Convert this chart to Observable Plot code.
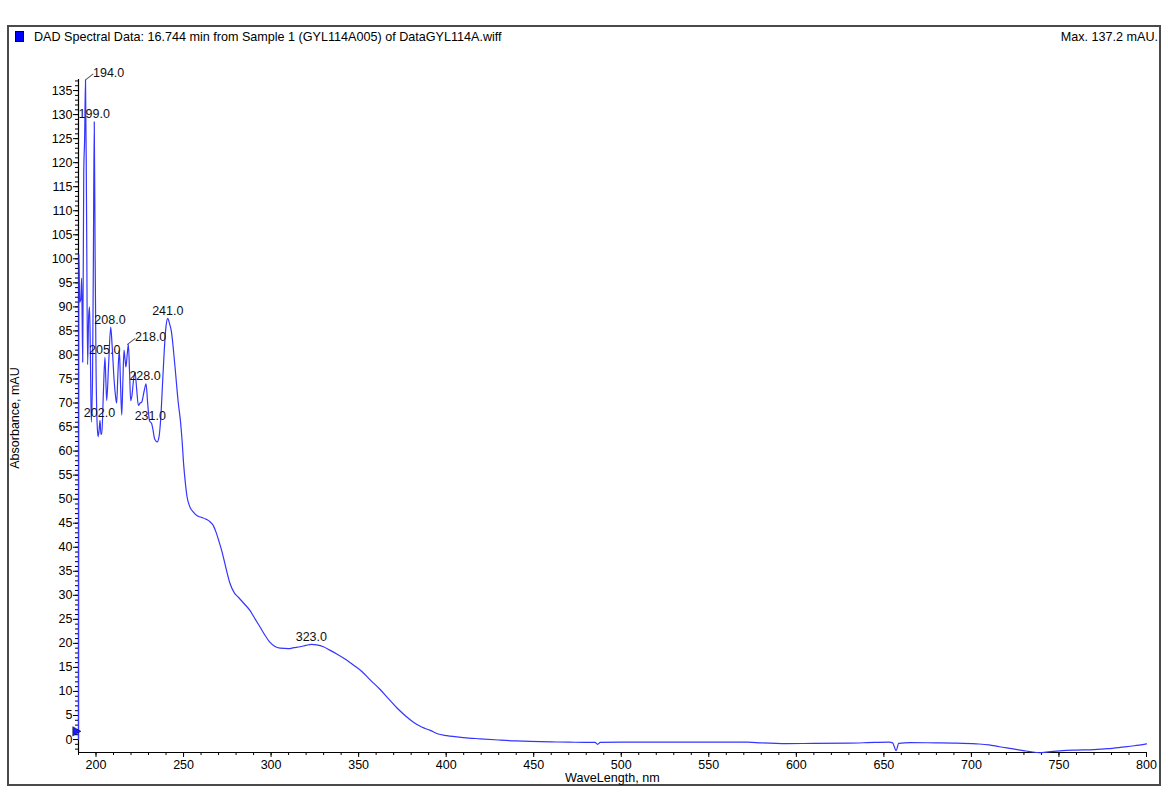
<!DOCTYPE html>
<html>
<head>
<meta charset="utf-8">
<script src="https://cdn.jsdelivr.net/npm/d3@7"></script>
<script src="https://cdn.jsdelivr.net/npm/@observablehq/plot@0.6"></script>
<style>
  html, body { margin: 0; padding: 0; background: #fff; }
  body { width: 1168px; height: 792px; position: relative; overflow: hidden;
         font-family: "Liberation Sans", Arial, sans-serif; color: #000; }
  #frame { position: absolute; left: 7px; top: 25px; width: 1154px; height: 761px;
           box-sizing: border-box; border: 2px solid #4a4a4a; }
  #chart { position: absolute; left: 0; top: 0; }
  .hdr { position: absolute; font-size: 12.6px; line-height: 14px; white-space: nowrap; }
  #swatch { position: absolute; left: 15px; top: 31px; width: 7px; height: 9px;
            background: #0000ff; border: 1px solid #000; }
  #ylab { position: absolute; left: 15px; top: 418px; font-size: 12.5px; white-space: nowrap;
          transform: translate(-50%, -50%) rotate(-90deg); }
  #xlab { position: absolute; left: 565px; top: 771px; font-size: 12.6px; white-space: nowrap; }
</style>
</head>
<body>
<div id="frame"></div>
<div id="swatch"></div>
<div class="hdr" style="left:34px; top:30px;">DAD Spectral Data: 16.744 min from Sample 1 (GYL114A005) of DataGYL114A.wiff</div>
<div class="hdr" style="right:10px; top:30px;">Max. 137.2 mAU.</div>
<div id="chart"></div>
<div id="ylab">Absorbance, mAU</div>
<div id="xlab">WaveLength, nm</div>
<script>
// ---- data ----
const wavelength = [
  190, 190.2, 190.7, 191.3, 191.8, 192.4, 193, 193.5, 194, 194.6, 195.2, 195.8, 196.3, 196.8, 197.3,
  198, 198.5, 199, 199.5, 200, 200.6, 201.2, 201.8, 202.3, 202.8, 203.3, 204.2, 205.1, 205.6, 206.1,
  207.2, 208.4, 209.2, 210.3, 211.3, 211.8, 212.5, 213.3, 214, 214.7, 215.3, 216, 216.6, 217.1, 217.8,
  218.5, 219.2, 219.8, 220.5, 221.5, 222.3, 223.2, 224.2, 225.2, 226.1, 227.5, 228.6, 229.5, 230.5,
  231.2, 231.8, 232.5, 233.5, 235, 236, 237, 238, 239, 240, 241, 242, 243, 245, 247, 248.3, 249.2,
  250, 251, 252, 253.5, 255.6, 258, 260.4, 263, 265.1, 267, 268.5, 270, 271.8, 274, 276.6, 279,
  281.3, 284, 288, 291, 293.7, 296.5, 299.4, 302, 305.1, 309.9, 313, 316.6, 320, 323, 326, 329.9,
  333.5, 337.5, 342, 347, 352, 356.6, 362.3, 367, 371.8, 376.5, 381.3, 386, 390.9, 395, 400.4,
  410, 419.4, 430, 440, 448, 460, 470, 480, 485, 486.5, 488, 500, 520, 540, 560, 572, 580, 594.6,
  610, 630, 645, 653, 655, 657, 658.5, 665, 680, 690, 702.7, 710, 716, 723, 729.7, 735, 738.7,
  745, 752, 760, 770, 778, 785.8, 793, 800
];
const absorbance = [
  0, 101, 91, 91.5, 96, 78.5, 118, 125, 137.2, 110, 78, 88, 90, 80, 66,
  75, 100, 128.5, 100, 78, 66, 63, 64.5, 66.4, 63.5, 63.5, 72, 79.5, 75, 70.5,
  78, 85.8, 82, 75, 71, 70, 76, 81, 74, 67.5, 74, 81, 79, 77.5, 80,
  82.2, 76, 70.5, 71.5, 75, 76.4, 73, 69.5, 70, 70.2, 72.5, 74, 70, 66.4,
  66, 65.7, 64.5, 62.5, 61.9, 63, 67, 74, 81, 86, 87.6, 86.5, 85, 78, 70, 66, 62,
  57.5, 53.5, 50.5, 48.5, 47.3, 46.5, 46.2, 45.8, 45.3, 44.5, 43.2, 41.5, 39.3, 36, 32.4, 30.5,
  29.6, 28.5, 26.8, 25, 23.4, 21.7, 20.2, 19.4, 19, 18.9, 19.1, 19.3, 19.6, 19.8, 19.7, 19.3,
  18.6, 17.8, 16.8, 15.5, 14.1, 12.4, 10.4, 8.5, 6.6, 5, 3.6, 2.6, 1.9, 1.2, 0.8,
  0.4, 0.15, -0.1, -0.3, -0.4, -0.5, -0.55, -0.6, -0.6, -1.0, -0.6, -0.55, -0.55, -0.55, -0.55, -0.55, -0.7, -0.85,
  -0.8, -0.75, -0.6, -0.55, -0.7, -2.3, -0.8, -0.65, -0.7, -0.75, -0.9, -1.1, -1.5, -1.9, -2.3, -2.6, -2.75,
  -2.5, -2.3, -2.2, -2.1, -1.9, -1.6, -1.3, -0.9
];
// labelled peaks
const peakWl  = [194, 199, 202, 205, 208, 218, 228, 231, 241, 323];
const peakAbs = [137.2, 128.5, 66.4, 79.5, 85.8, 82.2, 74, 65.7, 87.6, 19.8];
const leaderPeaks = [194, 218];
// axes
const xDomain = [190, 800];
const yDomain = [-2.7, 137.3];
const xMajor = d3.range(200, 801, 50);
const xMinor = d3.range(190, 801, 10);
const yMajor = d3.range(0, 136, 5);
const yMinor = d3.range(-2, 138, 1);
const markerLevel = [1.7];

const spectrum = wavelength.map((w, i) => ({w, a: absorbance[i]}));
const peaks = peakWl.map((w, i) => ({w, a: peakAbs[i], label: w.toFixed(1)}));
const plainPeaks = peaks.filter(p => !leaderPeaks.includes(p.w));
const ledPeaks = peaks.filter(p => leaderPeaks.includes(p.w));

const leaderShape = { draw(ctx, l) { ctx.moveTo(0, 0); ctx.lineTo(0, -l); } };

const chart = Plot.plot({
  width: 1168,
  height: 792,
  marginLeft: 78,
  marginRight: 22,
  marginTop: 79,
  marginBottom: 40,
  style: { fontFamily: "'Liberation Sans', Arial, sans-serif", fontSize: "12.5px", background: "transparent", overflow: "visible", color: "#000" },
  x: { domain: xDomain, label: null },
  y: { domain: yDomain, label: null },
  marks: [
    Plot.ruleY([yDomain[0]], { stroke: "#000", strokeWidth: 1.2 }),
    Plot.ruleX([xDomain[0]], { stroke: "#000", strokeWidth: 1.2 }),
    Plot.axisX({ ticks: xMinor, tickSize: 3, tickFormat: () => "", label: null, stroke: "#000" }),
    Plot.axisX({ ticks: xMajor, tickSize: 5, tickPadding: 3, label: null, stroke: "#000", fill: "#000", fontSize: 12.5 }),
    Plot.axisY({ ticks: yMinor, tickSize: 3, tickFormat: () => "", label: null, stroke: "#000" }),
    Plot.axisY({ ticks: yMajor, tickSize: 5, tickPadding: 1, label: null, stroke: "#000", fill: "#000", fontSize: 12.5 }),
    Plot.line(spectrum, { x: "w", y: "a", stroke: "#3535ff", strokeWidth: 1.2, curve: "monotone-x" }),
    Plot.dot(markerLevel, { x: xDomain[0], y: d => d, symbol: "triangle", rotate: 90, r: 3.5, fill: "#1a1aff", stroke: "#000", strokeWidth: 0.5, dx: -3 }),
    Plot.text(plainPeaks, { x: "w", y: "a", text: "label", textAnchor: "middle", lineAnchor: "middle", dy: -7.5, fill: "#111", fontSize: 12.5 }),
    Plot.vector(ledPeaks, { x: "w", y: "a", length: 9.5, rotate: 52, anchor: "start", shape: leaderShape, stroke: "#555", strokeWidth: 1 }),
    Plot.text(ledPeaks, { x: "w", y: "a", text: "label", textAnchor: "start", lineAnchor: "middle", dx: 7.5, dy: -7, fill: "#111", fontSize: 12.5 })
  ]
});
document.getElementById("chart").appendChild(chart);
</script>
</body>
</html>
